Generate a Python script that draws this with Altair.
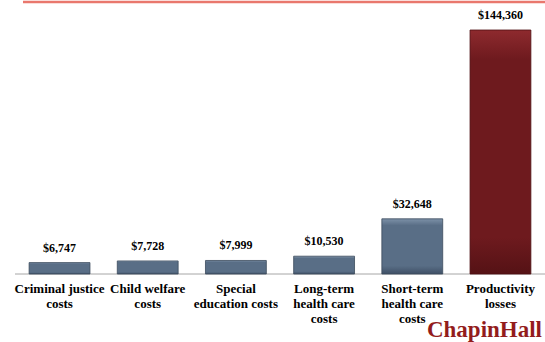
import altair as alt
import pandas as pd

categories = ["Criminal justice costs", "Child welfare costs", "Special education costs",
              "Long-term health care costs", "Short-term health care costs", "Productivity losses"]
label_lines = ["Criminal justice\ncosts", "Child welfare\ncosts", "Special\neducation costs",
               "Long-term\nhealth care\ncosts", "Short-term\nhealth care\ncosts", "Productivity\nlosses"]
values = [6747, 7728, 7999, 10530, 32648, 144360]
value_labels = ["$6,747", "$7,728", "$7,999", "$10,530", "$32,648", "$144,360"]
highlight = [False, False, False, False, False, True]

df = pd.DataFrame({"cat": categories, "lines": label_lines, "value": values,
                   "vlabel": value_labels, "hl": highlight})

FONT = "Liberation Serif"
x = alt.X("cat:N", sort=categories, axis=None,
          scale=alt.Scale(paddingInner=0.31, paddingOuter=0.16))
y = alt.Y("value:Q", axis=None, scale=alt.Scale(domain=[0, 162110]))

def grad(c_light, c_mid, c_dark):
    return alt.Gradient(gradient="linear", x1=0, x2=0, y1=0, y2=1,
                        stops=[alt.GradientStop(color=c_light, offset=0),
                               alt.GradientStop(color=c_mid, offset=0.12),
                               alt.GradientStop(color=c_mid, offset=0.85),
                               alt.GradientStop(color=c_dark, offset=1)])

base = alt.Chart(df)
blue = base.transform_filter("!datum.hl").mark_bar(
    color=grad("#7d91a8", "#596e86", "#3f5066"), stroke="#3b4a5c", strokeWidth=0.8
).encode(x=x, y=y)
red = base.transform_filter("datum.hl").mark_bar(
    color=grad("#8e2a2e", "#6e1a1e", "#551215"), stroke="#4e1013", strokeWidth=0.8
).encode(x=x, y=y)

vals = base.mark_text(font=FONT, fontWeight="bold", fontSize=12, baseline="bottom",
                      dy=-8, color="#000000").encode(x=x, y=y, text="vlabel:N")

cats = base.transform_calculate(lines="split(datum.lines, '\\n')").mark_text(
    font=FONT, fontWeight="bold", fontSize=13, baseline="top", lineHeight=15,
    color="#000000").encode(x=x, y=alt.value(283), text="lines:N")

axisline = alt.Chart(pd.DataFrame({"a": [0]})).mark_rule(color="#a6a6a6", strokeWidth=1).encode(
    x=alt.value(0), x2=alt.value(530), y=alt.value(274))
topline = alt.Chart(pd.DataFrame({"a": [0]})).mark_rule(color="#e9776d", strokeWidth=2.5).encode(
    x=alt.value(8), x2=alt.value(530), y=alt.value(2))
logo = alt.Chart(pd.DataFrame({"t": ["ChapinHall"]})).mark_text(
    font=FONT, fontWeight="bold", fontSize=23, color="#931c1c", align="right",
    baseline="alphabetic").encode(x=alt.value(527), y=alt.value(337), text="t:N")

chart = alt.layer(axisline, topline, blue, red, vals, cats, logo).properties(
    width=530, height=274,
    autosize=alt.AutoSizeParams(type="none"),
    padding={"left": 15, "top": 0, "right": 0, "bottom": 68},
    background="#ffffff"
).configure_view(stroke=None)

chart.save("out.html", embed_options={"renderer": "svg", "actions": False})
